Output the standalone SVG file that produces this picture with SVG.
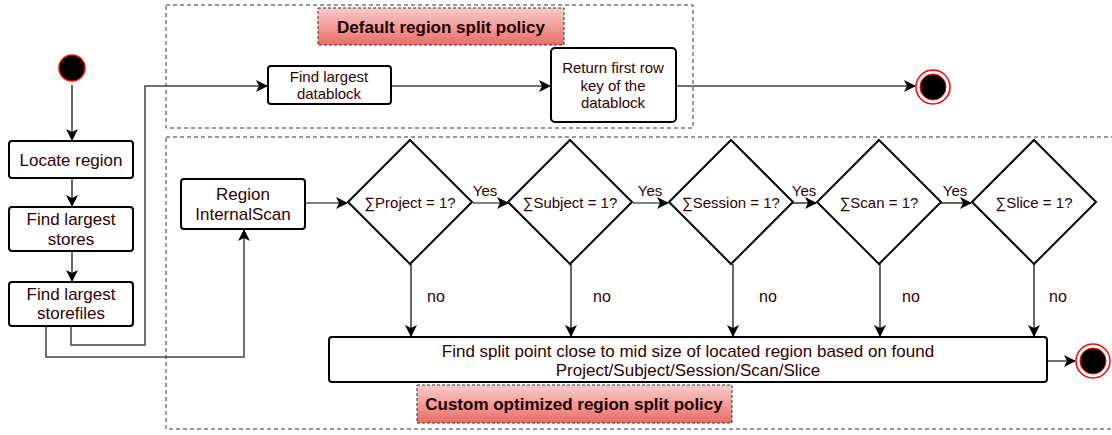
<svg xmlns="http://www.w3.org/2000/svg" width="1112" height="435" viewBox="0 0 1112 435">
<defs>
<linearGradient id="tg" x1="0" y1="0" x2="0" y2="1">
<stop offset="0" stop-color="#f8cecc"/>
<stop offset="1" stop-color="#ea6b66"/>
</linearGradient>
<marker id="ah" markerWidth="12" markerHeight="12" viewBox="0 0 12 12" refX="11" refY="6" orient="auto" markerUnits="userSpaceOnUse">
<path d="M0,0 L12,6 L0,12 L3,6 z" fill="#000"/>
</marker>
<style>
text{font-family:"Liberation Sans",Arial,sans-serif;fill:#330000;text-anchor:middle}
.box{fill:#fff;stroke:#000;stroke-width:2}
.dia{fill:#fff;stroke:#000;stroke-width:2}
.grp{fill:none;stroke:#333;stroke-width:1;stroke-dasharray:4 3}
.title{fill:url(#tg);stroke:#333;stroke-width:1;stroke-dasharray:3 2}
.tt{font-weight:bold;font-size:17px;fill:#1a0000}
.c{fill:none;stroke:#000;stroke-width:1.2;marker-end:url(#ah)}
.cg{fill:none;stroke:#444;stroke-width:1.5;marker-end:url(#ah)}
.lbl{font-size:15px}
</style>
</defs>
<g id="group-default">
<rect class="grp" x="166" y="5" width="527" height="123"/>
<rect class="title" x="318" y="8" width="246" height="37"/>
<text class="tt" x="441" y="33">Default region split policy</text>
</g>
<g id="group-custom">
<rect class="grp" x="166" y="137" width="960" height="292"/>
<rect class="title" x="417" y="385" width="315" height="38"/>
<text class="tt" x="574" y="410">Custom optimized region split policy</text>
</g>
<g id="connectors">
<line class="c" x1="72" y1="85" x2="72" y2="140"/>
<line class="c" x1="72" y1="178" x2="72" y2="206"/>
<line class="c" x1="72" y1="251" x2="72" y2="281"/>
<polyline class="cg" points="71,326 71,345 145,345 145,86 267,86"/>
<polyline class="cg" points="46,326 46,357 244,357 244,230"/>
<line class="cg" x1="391" y1="86" x2="550" y2="86"/>
<line class="cg" x1="676" y1="86" x2="915" y2="86"/>
<line class="c" x1="305" y1="203" x2="347" y2="203"/>
<line class="c" x1="473" y1="203" x2="508" y2="203"/>
<line class="c" x1="633" y1="203" x2="668" y2="203"/>
<line class="c" x1="792" y1="203" x2="816" y2="203"/>
<line class="c" x1="940" y1="203" x2="971" y2="203"/>
<line class="c" x1="411" y1="264" x2="411" y2="336"/>
<line class="c" x1="571" y1="264" x2="571" y2="336"/>
<line class="c" x1="733" y1="264" x2="733" y2="336"/>
<line class="c" x1="880" y1="264" x2="880" y2="336"/>
<line class="c" x1="1034" y1="264" x2="1034" y2="336"/>
<line class="cg" x1="1047" y1="361" x2="1075" y2="361"/>
<text class="lbl" x="485" y="196">Yes</text>
<text class="lbl" x="650" y="196">Yes</text>
<text class="lbl" x="804" y="196">Yes</text>
<text class="lbl" x="955" y="196">Yes</text>
<text class="lbl" x="436" y="302" style="font-size:16px">no</text>
<text class="lbl" x="602" y="302" style="font-size:16px">no</text>
<text class="lbl" x="768" y="302" style="font-size:16px">no</text>
<text class="lbl" x="911" y="302" style="font-size:16px">no</text>
<text class="lbl" x="1058" y="302" style="font-size:16px">no</text>
</g>
<g id="start">
<circle cx="72" cy="68" r="13" fill="#000" stroke="#ff0000" stroke-width="1.5"/>
</g>
<g id="locate-region">
<rect class="box" x="9" y="141" width="124" height="37" rx="3"/>
<text x="71" y="166" style="font-size:17px">Locate region</text>
</g>
<g id="find-largest-stores">
<rect class="box" x="9" y="207" width="124" height="44" rx="3"/>
<text x="71" y="225" style="font-size:17px">Find largest</text>
<text x="71" y="245" style="font-size:17px">stores</text>
</g>
<g id="find-largest-storefiles">
<rect class="box" x="9" y="282" width="124" height="44" rx="3"/>
<text x="71" y="300" style="font-size:17px">Find largest</text>
<text x="71" y="319" style="font-size:17px">storefiles</text>
</g>
<g id="find-largest-datablock">
<rect class="box" x="268" y="66" width="123" height="38" rx="3"/>
<text x="329" y="82" style="font-size:15px">Find largest</text>
<text x="329" y="99" style="font-size:15px">datablock</text>
</g>
<g id="return-first-row">
<rect class="box" x="551" y="48" width="125" height="74" rx="4"/>
<text x="613" y="73" style="font-size:15px">Return first row</text>
<text x="613" y="91" style="font-size:15px">key of the</text>
<text x="613" y="108" style="font-size:15px">datablock</text>
</g>
<g id="end-default">
<circle cx="933" cy="87" r="17" fill="#fff" stroke="#ff0000" stroke-width="1.5"/>
<circle cx="933" cy="87" r="13" fill="#000" stroke="#ff0000" stroke-width="1"/>
</g>
<g id="region-internalscan">
<rect class="box" x="181" y="179" width="124" height="50" rx="3"/>
<text x="243" y="200" style="font-size:17px">Region</text>
<text x="243" y="220" style="font-size:17px">InternalScan</text>
</g>
<g id="d-project">
<polygon class="dia" points="410,140 472,202 410,264 348,202"/>
<text x="410" y="208" style="font-size:15px">∑Project = 1?</text>
</g>
<g id="d-subject">
<polygon class="dia" points="570,140 632,202 570,264 508,202"/>
<text x="570" y="208" style="font-size:15px">∑Subject = 1?</text>
</g>
<g id="d-session">
<polygon class="dia" points="731,140 793,202 731,264 669,202"/>
<text x="731" y="208" style="font-size:15px">∑Session = 1?</text>
</g>
<g id="d-scan">
<polygon class="dia" points="879,140 941,202 879,264 817,202"/>
<text x="879" y="208" style="font-size:15px">∑Scan = 1?</text>
</g>
<g id="d-slice">
<polygon class="dia" points="1034,140 1096,202 1034,264 972,202"/>
<text x="1034" y="208" style="font-size:15px">∑Slice = 1?</text>
</g>
<g id="find-split-point">
<rect class="box" x="329" y="337" width="718" height="45" rx="3"/>
<text x="688" y="357" style="font-size:17px">Find split point close to mid size of located region based on found</text>
<text x="688" y="376" style="font-size:17px">Project/Subject/Session/Scan/Slice</text>
</g>
<g id="end-custom">
<circle cx="1093" cy="361" r="17" fill="#fff" stroke="#ff0000" stroke-width="1.5"/>
<circle cx="1093" cy="361" r="13" fill="#000" stroke="#ff0000" stroke-width="1"/>
</g>
</svg>
